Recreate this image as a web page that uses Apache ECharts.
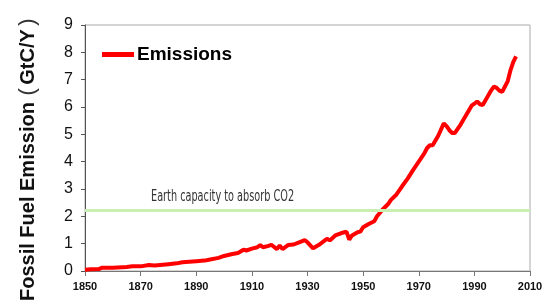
<!DOCTYPE html>
<html style="height: 100%">
<head>
    <meta charset="utf-8">
</head>
<body style="height: 100%; margin: 0; background: #fff">
<div id="container" style="width: 548px; height: 302px;"></div>

<script type="text/javascript" src="https://cdn.jsdelivr.net/npm/echarts@6/dist/echarts.min.js"></script>
<script type="text/javascript">
    // values (GtC per year)
    var years = [1850, 1852, 1855, 1856, 1860, 1865, 1867, 1870, 1873, 1875, 1880, 1883, 1885,
        1890, 1893, 1895, 1898, 1900, 1903, 1905, 1907, 1908, 1910, 1912, 1913, 1914, 1916,
        1917, 1919, 1920, 1921, 1923, 1925, 1927, 1929, 1930, 1932, 1934, 1936, 1937, 1938,
        1940, 1942, 1944, 1945, 1946, 1948, 1949, 1950, 1952, 1954, 1955, 1957, 1959, 1960,
        1962, 1964, 1966, 1968, 1970, 1972, 1973, 1974, 1975, 1977, 1979, 1980, 1981, 1982,
        1983, 1985, 1987, 1989, 1990, 1991, 1992, 1993, 1994, 1996, 1997, 1998, 1999, 2000,
        2001, 2002, 2003, 2004, 2005];
    var emissions = [0.05, 0.06, 0.07, 0.12, 0.12, 0.15, 0.17, 0.17, 0.22, 0.2, 0.25, 0.28, 0.32,
        0.36, 0.38, 0.42, 0.48, 0.55, 0.62, 0.66, 0.78, 0.75, 0.82, 0.87, 0.95, 0.87, 0.92,
        0.96, 0.8, 0.93, 0.8, 0.95, 0.97, 1.05, 1.13, 1.05, 0.83, 0.95, 1.1, 1.18, 1.12,
        1.3, 1.38, 1.44, 1.15, 1.3, 1.42, 1.44, 1.6, 1.72, 1.82, 2.0, 2.25, 2.45, 2.6,
        2.8, 3.1, 3.38, 3.7, 4.0, 4.3, 4.5, 4.6, 4.6, 4.95, 5.4, 5.3, 5.15, 5.05,
        5.05, 5.35, 5.7, 6.05, 6.12, 6.2, 6.1, 6.07, 6.25, 6.6, 6.75, 6.7, 6.6, 6.55,
        6.75, 6.95, 7.35, 7.65, 7.85];
    var capacity = 2.23;
    var capacityLabel = 'Earth capacity to absorb CO2';
    var yTitle = 'Fossil Fuel Emission';
    var yUnit = 'GtC/Y';

    var dom = document.getElementById("container");
    var myChart = echarts.init(dom);

    var series = years.map(function (y, i) { return [y, emissions[i]]; });

    var option = {
        animation: false,
        grid: {
            left: 85, right: 18, top: 25, bottom: 31,
            show: true, borderColor: '#aaa', borderWidth: 1
        },
        legend: {
            left: 97, top: 40,
            icon: 'rect', itemWidth: 32, itemHeight: 5, itemGap: 4,
            textStyle: {fontFamily: 'Liberation Sans', fontWeight: 'bold', fontSize: 19, color: '#000', padding: [0, 0, 0, -2]},
            data: ['Emissions']
        },
        xAxis: {
            type: 'value', min: 1850, max: 2010, interval: 20,
            axisLine: {lineStyle: {color: '#777'}},
            axisTick: {inside: false, length: 5, lineStyle: {color: '#777'}},
            splitLine: {show: false},
            axisLabel: {
                fontFamily: 'Liberation Sans', fontWeight: 'bold', fontSize: 11, color: '#111', margin: 10,
                formatter: function (v) { return String(v); }
            }
        },
        yAxis: {
            type: 'value', min: 0, max: 9, interval: 1,
            axisLine: {show: true, lineStyle: {color: '#555'}},
            axisTick: {show: true, inside: false, length: 4, lineStyle: {color: '#555'}},
            splitLine: {show: false},
            axisLabel: {
                fontFamily: 'Liberation Sans', fontSize: 16, color: '#111', margin: 12
            }
        },
        graphic: [
            {
                type: 'text', left: 151, top: 190, z: 10,
                scaleX: 0.72,
                style: {
                    text: capacityLabel,
                    font: '15px "Liberation Sans Narrow", "DejaVu Sans Condensed", sans-serif',
                    fill: '#333'
                }
            },
            {
                type: 'text', x: 17, y: 301, rotation: Math.PI / 2, z: 10,
                style: {
                    text: '{a|' + yTitle + '}  {b|(} {a|' + yUnit + '} {b|)}',
                    rich: {
                        a: {font: 'bold 20px "Liberation Sans", sans-serif', fill: '#111'},
                        b: {font: '22px "Liberation Sans", sans-serif', fill: '#333'}
                    },
                    textVerticalAlign: 'top'
                }
            }
        ],
        series: [{
            name: 'Emissions',
            type: 'line',
            data: series,
            showSymbol: false,
            color: '#ff0000',
            lineStyle: {width: 4, color: '#ff0000'},
            markLine: {
                silent: true,
                symbol: 'none',
                label: {show: false},
                lineStyle: {type: 'solid', width: 3, color: '#c9efb2'},
                data: [{yAxis: capacity}]
            }
        }]
    };

    myChart.setOption(option);
</script>
</body>
</html>
